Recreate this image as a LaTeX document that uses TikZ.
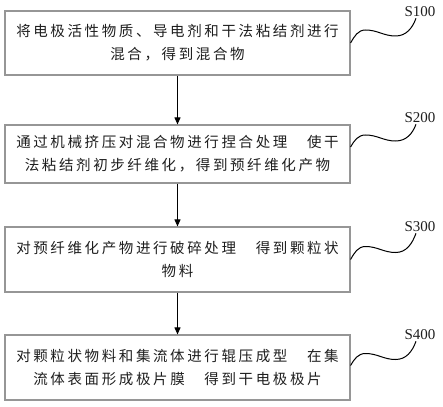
\documentclass[tikz,border=0pt]{standalone}
\usepackage{fontspec}
\setmainfont{Noto Sans CJK SC}[LetterSpace=18.0]
\newfontfamily\labfont{Liberation Serif}
\usetikzlibrary{arrows.meta}
\definecolor{boxgray}{RGB}{150,150,150}
\definecolor{textc}{RGB}{30,30,30}
\begin{document}
\begin{tikzpicture}[x=1pt,y=1pt,
  box/.style={draw=boxgray, line width=1.1pt, minimum width=345pt, inner sep=0pt,
    align=center, font=\fontsize{14.5}{23}\selectfont, text=textc},
  flow/.style={-{Triangle[length=7pt,width=6pt]}, line width=0.9pt, black},
  wave/.style={line width=1pt, black},
  lab/.style={font=\labfont\fontsize{15}{18}\selectfont, text=textc, inner sep=1pt}]
\useasboundingbox (0,0) rectangle (443,-406);
\node[box, minimum height=64pt] (b1) at (177.5,-43)
  {将电极活性物质、导电剂和干法粘结剂进行\\混合，得到混合物};
\node[box, minimum height=58pt] (b2) at (177.5,-154)
  {通过机械挤压对混合物进行捏合处理　使干\\法粘结剂初步纤维化，得到预纤维化产物};
\node[box, minimum height=65pt] (b3) at (177.5,-259.5)
  {对预纤维化产物进行破碎处理　得到颗粒状\\物料};
\node[box, minimum height=65pt] (b4) at (177.5,-367.5)
  {对颗粒状物料和集流体进行辊压成型　在集\\流体表面形成极片膜　得到干电极极片};
\draw[flow] (b1) -- (b2);
\draw[flow] (b2) -- (b3);
\draw[flow] (b3) -- (b4);
\node[lab] (l1) at (420,-12) {S100};
\node[lab] (l2) at (420,-118) {S200};
\node[lab] (l3) at (420,-227) {S300};
\node[lab] (l4) at (420,-335) {S400};
\draw[wave] (b1.east) to[out=60,in=180] ++(15,13) to[out=0,in=180] ++(30,-6) to[out=0,in=-110] ([xshift=-4pt]l1.south);
\draw[wave] ([yshift=7pt]b2.east) to[out=60,in=180] ++(15,12) to[out=0,in=180] ++(30,-6) to[out=0,in=-110] ([xshift=-4pt]l2.south);
\draw[wave] (b3.east) to[out=60,in=180] ++(15,13) to[out=0,in=180] ++(30,-6) to[out=0,in=-110] ([xshift=-4pt]l3.south);
\draw[wave] ([yshift=2pt]b4.east) to[out=60,in=180] ++(15,12) to[out=0,in=180] ++(30,-6) to[out=0,in=-110] ([xshift=-4pt]l4.south);
\end{tikzpicture}
\end{document}
